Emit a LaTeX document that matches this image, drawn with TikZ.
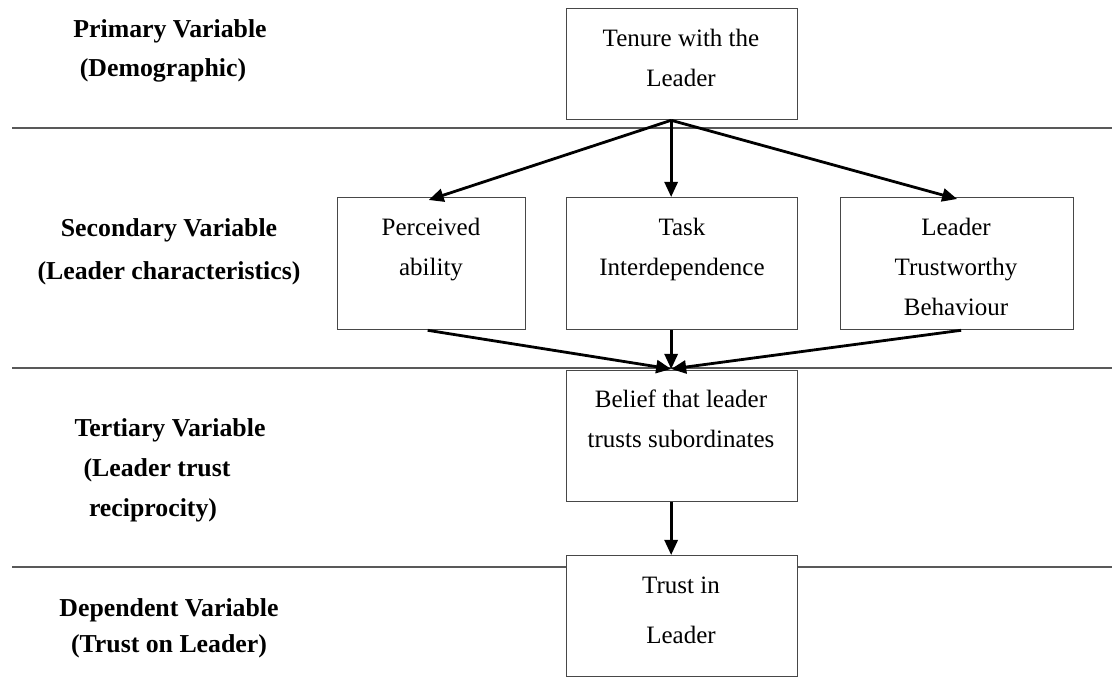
\documentclass[tikz,border=0pt]{standalone}
\usepackage{fontspec}
\setmainfont{Liberation Serif}
\usetikzlibrary{arrows.meta,calc}
\begin{document}
\begin{tikzpicture}[x=1pt,y=-1pt,
  box/.style={draw=black!72,line width=1.3pt,fill=white,rectangle,inner sep=0pt,
    anchor=north west,minimum width=231pt,minimum height=112pt},
  txt/.style={font=\fontsize{25}{25}\selectfont,inner sep=0pt,anchor=base},
  lvl/.style={font=\fontsize{25.8}{25.8}\selectfont\bfseries,inner sep=0pt,anchor=base},
  divider/.style={draw=black!65,line width=1.3pt},
  flow/.style={line width=2.8pt,-{Triangle[length=15pt,width=13pt]}},
]
\useasboundingbox (0,0) rectangle (1112,684);

% level dividers
\draw[divider] (12,128) -- (1112,128);
\draw[divider] (12,368) -- (1112,368);
\draw[divider] (12,567) -- (1112,567);

% level labels
\node[lvl] (l1a) at (170,38) {Primary Variable};
\node[lvl] (l1b) at (163,77) {(Demographic)};
\node[lvl] (l2a) at (169,237) {Secondary Variable};
\node[lvl] (l2b) at (169,280) {(Leader characteristics)};
\node[lvl] (l3a) at (170,437) {Tertiary Variable};
\node[lvl] (l3b) at (157,477) {(Leader trust};
\node[lvl] (l3c) at (153,517) {reciprocity)};
\node[lvl] (l4a) at (169,616) {Dependent Variable};
\node[lvl] (l4b) at (169,652) {(Trust on Leader)};

% boxes
\node[box,minimum height=111pt] (tenure) at (566,8) {};
\node[box,minimum width=188pt,minimum height=132pt] (ability) at (337,197) {};
\node[box,minimum height=132pt] (task) at (566,197) {};
\node[box,minimum width=233pt,minimum height=132pt] (behav) at (840,197) {};
\node[box,minimum height=131pt] (belief) at (566,370) {};
\node[box,minimum height=121pt] (trust) at (566,555) {};

% box texts
\node[txt] (t1) at (681,47) {Tenure with the};
\node[txt] (t2) at (681,87) {Leader};
\node[txt] (a1) at (431,236) {Perceived};
\node[txt] (a2) at (431,276) {ability};
\node[txt] (k1) at (682,236) {Task};
\node[txt] (k2) at (682,276) {Interdependence};
\node[txt] (b1) at (956,236) {Leader};
\node[txt] (b2) at (956,276) {Trustworthy};
\node[txt] (b3) at (956,316) {Behaviour};
\node[txt] (e1) at (681,408) {Belief that leader};
\node[txt] (e2) at (681,448) {trusts subordinates};
\node[txt] (r1) at (681,593) {Trust in};
\node[txt] (r2) at (681,643) {Leader};

% connectors
\coordinate (apex) at ([xshift=-11pt]tenure.south);
\draw[flow] (apex) -- ([xshift=-3pt,yshift=-3pt]ability.north);
\draw[flow] (apex) -- ([xshift=-11pt]task.north);
\draw[flow] (apex) -- ([xshift=0pt,yshift=-2pt]behav.north);
\coordinate (join) at ([xshift=-11pt,yshift=1pt]belief.north);
\draw[flow] ([xshift=-4pt]ability.south) -- (join);
\draw[flow] ([xshift=-11pt]task.south) -- (join);
\draw[flow] ([xshift=4pt]behav.south) -- (join);
\draw[flow] ([xshift=-11pt]belief.south) -- ([xshift=-11pt]trust.north);
\end{tikzpicture}
\end{document}
